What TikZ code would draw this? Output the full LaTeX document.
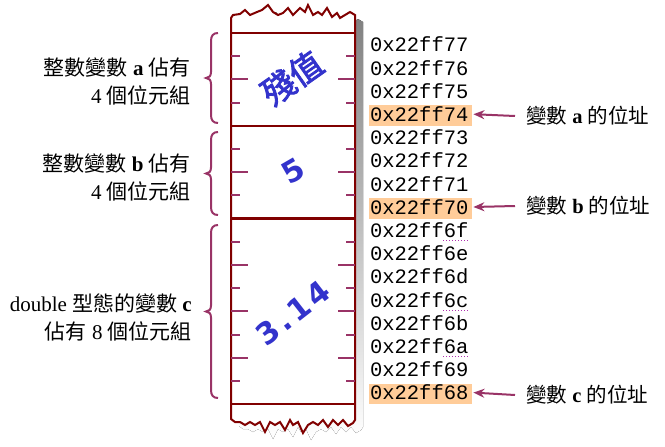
\documentclass[tikz,border=0pt]{standalone}
\usepackage{fontspec}
\setmainfont{Liberation Serif}
\newfontfamily\cjk{Noto Sans CJK TC}
\newfontfamily\cjkb{Noto Sans CJK TC}[FakeBold=2.5]
\newfontfamily\mono{Liberation Mono}
\newfontfamily\valfont{DejaVu Sans}[LetterSpace=12]
\usetikzlibrary{arrows.meta}
\definecolor{frame}{HTML}{800000}
\definecolor{tickc}{HTML}{993366}
\definecolor{valblue}{HTML}{3333CC}
\definecolor{hl}{HTML}{FFCC99}
\definecolor{shade}{HTML}{C0C0C0}
\definecolor{spell}{HTML}{B030B0}
\tikzset{
  rule/.style={frame, line width=2.4pt},
  tickline/.style={tickc, line width=2pt},
  bracec/.style={tickc, line width=2pt},
  addr/.style={anchor=west, inner sep=0pt, outer sep=0pt, font=\mono\fontsize{20.5}{22}\selectfont},
  sidelabel/.style={anchor=east, align=right, inner sep=0pt, font=\fontsize{21}{28}\selectfont},
  ptrlabel/.style={anchor=west, inner sep=0pt, font=\fontsize{20.5}{22}\selectfont},
  ptrarrow/.style={tickc, line width=2pt, -{Stealth[length=11pt,width=9pt]}},
  value/.style={text=valblue, inner sep=0pt}
}
\def\topzig{(231,18) -- (233,15) -- (240,14) -- (245,10) -- (250,15) -- (257,12) -- (262,10) -- (268,5) -- (273,12) -- (278,15) -- (283,13) -- (288,8) -- (293,15) -- (300,8) -- (305,12) -- (308,5) -- (313,15) -- (318,12) -- (322,15) -- (327,8) -- (332,17) -- (337,13) -- (340,18) -- (345,15) -- (350,12) -- (355,15)}
\def\botzig{(355,420) -- (353,423) -- (348,426) -- (343,420) -- (338,425) -- (333,420) -- (328,427) -- (323,420) -- (318,425) -- (313,422) -- (308,425) -- (303,433) -- (298,422) -- (293,425) -- (290,420) -- (285,430) -- (280,422) -- (275,425) -- (270,422) -- (265,432) -- (260,422) -- (255,425) -- (250,422) -- (245,425) -- (240,422) -- (235,422) -- (231,419)}
\begin{document}
\begin{tikzpicture}[x=1pt,y=-1pt]
\useasboundingbox (0,0) rectangle (665,447);
% shadow
\fill[shade, shift={(8,7)}] \topzig -- \botzig -- cycle;
% memory strip
\filldraw[fill=white, draw=frame, line width=2pt, line join=miter] \topzig -- \botzig -- cycle;
% separators
\foreach \y in {33,125.8,218.6,404.2} \draw[rule] (231,\y) -- (355,\y);
% ticks
\foreach \i in {1,2,3,5,6,7,9,10,11,12,13,14,15}{
  \pgfmathsetmacro\yy{33+23.2*\i}
  \pgfmathtruncatemacro\lng{(\i==2 || \i==6 || \i==10 || \i==12 || \i==14) ? 1 : 0}
  \ifnum\lng=1
    \draw[tickline] (231,\yy) -- (248,\yy);
    \draw[tickline] (338,\yy) -- (355,\yy);
  \else
    \draw[tickline] (231,\yy) -- (240,\yy);
    \draw[tickline] (346,\yy) -- (355,\yy);
  \fi
}
% highlights
\foreach \i in {3,7,15}{
  \fill[hl] (369,{33+23.2*\i+2.5}) rectangle (472,{33+23.2*(\i+1)});
}
% addresses
\foreach \t [count=\i from 0] in {77,76,75,74,73,72,71,70,6f,6e,6d,6c,6b,6a,69,68}{
  \node[addr] (addr\i) at (370,{33+23.2*(\i+0.5)}) {0x22ff\t};
}
% spell-check underlines
\foreach \i in {8,11,13}{
  \draw[spell, line width=1pt, dotted] ([yshift=-3pt]addr\i.south east) ++(-25,0) -- ++(25,0);
}
% values
\node[value, rotate=35, font=\cjkb\fontsize{33}{33}\selectfont] (va) at (292,78) {殘值};
\node[value, rotate=30, font=\valfont\bfseries\fontsize{30}{30}\selectfont] (vb) at (293,171) {5};
\node[value, rotate=38, font=\valfont\bfseries\fontsize{30}{30}\selectfont] (vc) at (293,313) {3.14};
% braces
\foreach \t/\b in {33/123,132/215,225/398}{
  \pgfmathsetmacro\m{(\t+\b)/2}
  \draw[bracec] (218,\t) .. controls (213,\t) and (211,\t+3) .. (211,\t+8) -- (211,\m-6) .. controls (211,\m-2) and (209,\m) .. (206,\m) .. controls (209,\m) and (211,\m+2) .. (211,\m+6) -- (211,\b-8) .. controls (211,\b-3) and (213,\b) .. (218,\b);
}
% side labels
\node[sidelabel] (sa) at (191,81.5) {{\cjk 整數變數} \textbf{a} {\cjk 佔有}\\4 {\cjk 個位元組}};
\node[sidelabel] (sb) at (191,177.5) {{\cjk 整數變數} \textbf{b} {\cjk 佔有}\\4 {\cjk 個位元組}};
\node[sidelabel] (sc) at (192,317.5) {double {\cjk 型態的變數} \textbf{c}\\{\cjk 佔有} 8 {\cjk 個位元組}};
% pointer labels
\node[ptrlabel] (pa) at (526,116) {{\cjk 變數} \textbf{a} {\cjk 的位址}};
\node[ptrlabel] (pb) at (526,206) {{\cjk 變數} \textbf{b} {\cjk 的位址}};
\node[ptrlabel] (pc) at (526,395) {{\cjk 變數} \textbf{c} {\cjk 的位址}};
\draw[ptrarrow] ([xshift=-11pt]pa.west) -- ([xshift=5pt]addr3.east);
\draw[ptrarrow] ([xshift=-11pt]pb.west) -- ([xshift=5pt]addr7.east);
\draw[ptrarrow] ([xshift=-11pt]pc.west) -- ([xshift=5pt]addr15.east);
\end{tikzpicture}
\end{document}
